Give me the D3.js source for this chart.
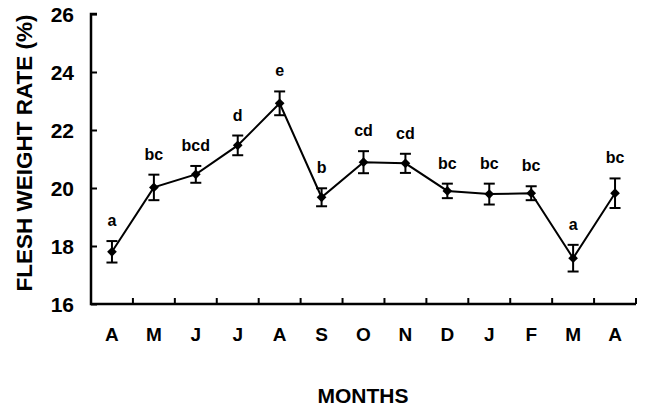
<!DOCTYPE html>
<html>
<head>
<meta charset="utf-8">
<script src="https://d3js.org/d3.v7.min.js"></script>
<style>
  body { margin: 0; background: #fff; }
  text { font-family: "Liberation Sans", Arial, sans-serif; font-weight: bold; fill: #000; }
</style>
</head>
<body>
<div id="chart"></div>
<script>
// Data
var months = ["A", "M", "J", "J", "A", "S", "O", "N", "D", "J", "F", "M", "A"];
var means = [17.8, 20.02, 20.47, 21.47, 22.92, 19.68, 20.89, 20.85, 19.9, 19.79, 19.82, 17.58, 19.82];
var errors = [0.37, 0.44, 0.29, 0.34, 0.41, 0.31, 0.38, 0.33, 0.25, 0.36, 0.24, 0.46, 0.51];
var letters = ["a", "bc", "bcd", "d", "e", "b", "cd", "cd", "bc", "bc", "bc", "a", "bc"];
var yTicks = [16, 18, 20, 22, 24, 26];

var svgWidth = 648;
var svgHeight = 407;

var margin = {
    top: 14,
    right: 12,
    bottom: 103,
    left: 91
};

var width = svgWidth - margin.left - margin.right;
var height = svgHeight - margin.top - margin.bottom;

var svg = d3
    .select("#chart")
    .append("svg")
    .attr("width", svgWidth)
    .attr("height", svgHeight);

var chart = svg.append("g")
    .attr("transform", `translate(${margin.left}, ${margin.top})`);

var data = months.map(function (m, i) {
    return { i: i, month: m, mean: means[i], err: errors[i], letter: letters[i] };
});

var xScale = d3.scaleBand()
    .domain(d3.range(months.length))
    .range([0, width]);

var yScale = d3.scaleLinear()
    .domain([16, 26])
    .range([height, 0]);

var cx = d => xScale(d.i) + xScale.bandwidth() / 2;

// Y-axis, ticks pointing inward
var yAxis = d3.axisRight(yScale)
    .tickValues(yTicks)
    .tickSize(6)
    .tickFormat("");

var yG = chart.append("g").call(yAxis);
yG.select(".domain").remove();
yG.selectAll("line").attr("stroke", "#000").attr("stroke-width", 2);

chart.selectAll(".ylab")
    .data(yTicks)
    .enter()
    .append("text")
    .attr("class", "ylab")
    .attr("x", -17)
    .attr("y", d => yScale(d))
    .attr("dy", "0.36em")
    .attr("text-anchor", "end")
    .attr("font-size", "21px")
    .text(d => d);

// X-axis ticks at band edges, pointing up
var edges = d3.range(1, months.length + 1).map(k => k * xScale.step());
chart.selectAll(".xtick")
    .data(edges)
    .enter()
    .append("line")
    .attr("x1", d => d)
    .attr("x2", d => d)
    .attr("y1", height)
    .attr("y2", height - 6)
    .attr("stroke", "#000")
    .attr("stroke-width", 2);

// axis lines
chart.append("path")
    .attr("d", `M6,0H0V${height}H${width}`)
    .attr("fill", "none")
    .attr("stroke", "#000")
    .attr("stroke-width", 2.5);

chart.selectAll(".xlab")
    .data(data)
    .enter()
    .append("text")
    .attr("class", "xlab")
    .attr("x", cx)
    .attr("y", height + 37)
    .attr("text-anchor", "middle")
    .attr("font-size", "19px")
    .text(d => d.month);

// line
var line = d3.line()
    .x(cx)
    .y(d => yScale(d.mean));

chart.append("path")
    .datum(data)
    .attr("d", line)
    .attr("fill", "none")
    .attr("stroke", "#000")
    .attr("stroke-width", 2);

// error bars
var bars = chart.selectAll(".err")
    .data(data)
    .enter()
    .append("g")
    .attr("class", "err")
    .attr("stroke", "#000")
    .attr("stroke-width", 2);

bars.append("line")
    .attr("x1", cx).attr("x2", cx)
    .attr("y1", d => yScale(d.mean + d.err))
    .attr("y2", d => yScale(d.mean - d.err));
bars.append("line")
    .attr("x1", d => cx(d) - 5.5).attr("x2", d => cx(d) + 5.5)
    .attr("y1", d => yScale(d.mean + d.err))
    .attr("y2", d => yScale(d.mean + d.err));
bars.append("line")
    .attr("x1", d => cx(d) - 5.5).attr("x2", d => cx(d) + 5.5)
    .attr("y1", d => yScale(d.mean - d.err))
    .attr("y2", d => yScale(d.mean - d.err));

// diamond markers
chart.selectAll(".pt")
    .data(data)
    .enter()
    .append("path")
    .attr("class", "pt")
    .attr("d", d3.symbol().type(d3.symbolDiamond2).size(60))
    .attr("transform", d => `translate(${cx(d)},${yScale(d.mean)})`)
    .attr("fill", "#000");

// significance letters
chart.selectAll(".sig")
    .data(data)
    .enter()
    .append("text")
    .attr("class", "sig")
    .attr("x", cx)
    .attr("y", d => yScale(d.mean + d.err) - 15)
    .attr("text-anchor", "middle")
    .attr("font-size", "16px")
    .text(d => d.letter);

// axis titles
svg.append("text")
    .attr("x", 363)
    .attr("y", 403)
    .attr("text-anchor", "middle")
    .attr("font-size", "21px")
    .text("MONTHS");

svg.append("text")
    .attr("transform", "rotate(-90)")
    .attr("x", -153)
    .attr("y", 32)
    .attr("text-anchor", "middle")
    .attr("font-size", "22.5px")
    .text("FLESH WEIGHT RATE (%)");
</script>
</body>
</html>
